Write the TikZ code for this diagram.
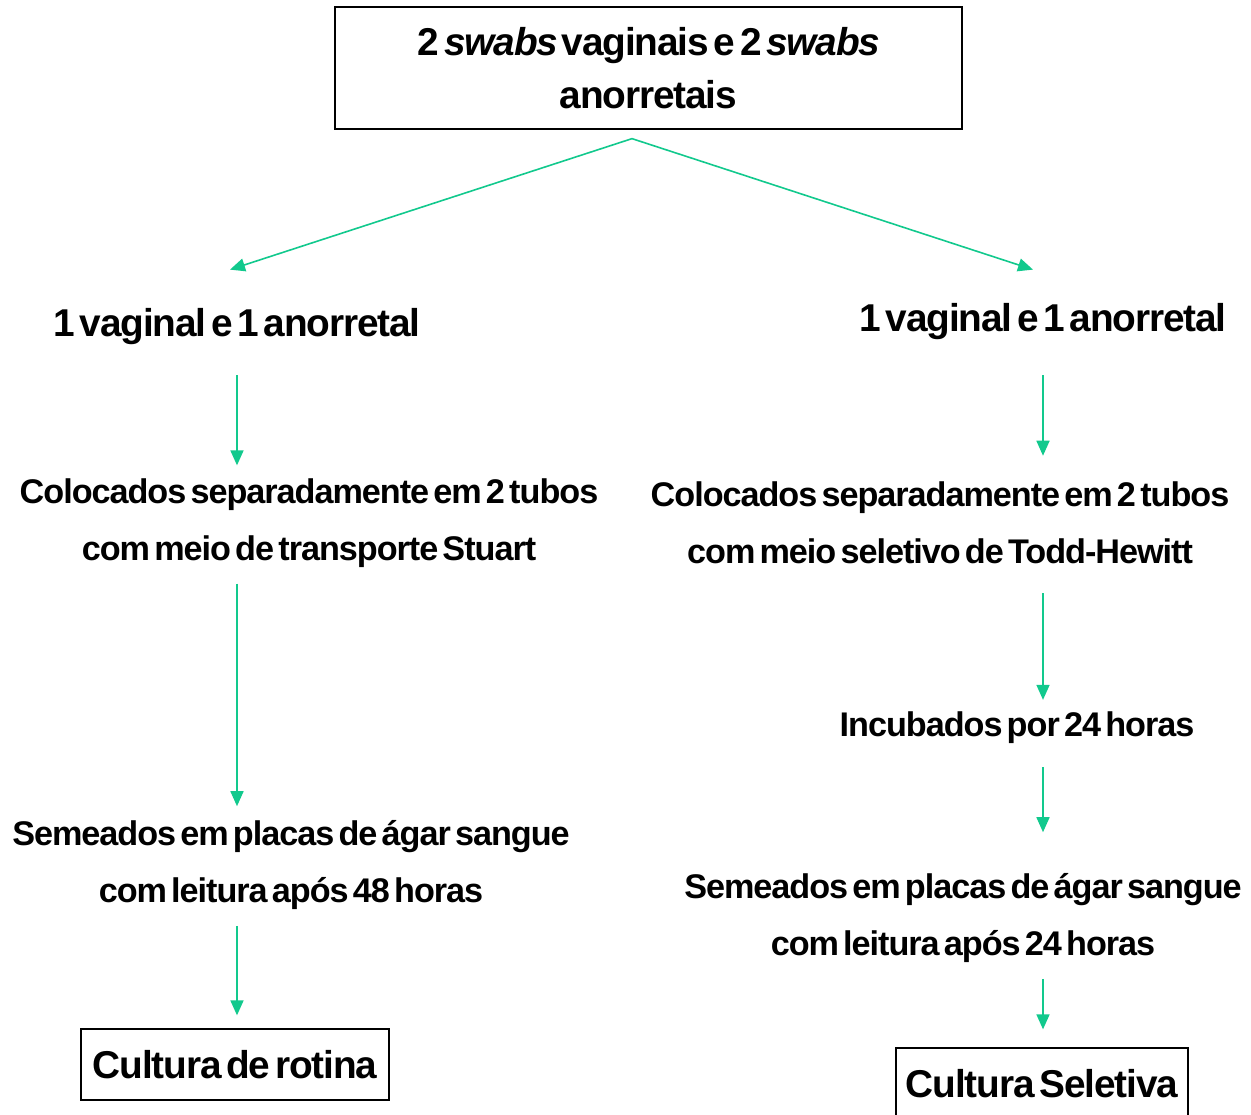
\documentclass[tikz,border=0pt]{standalone}
\usepackage{fontspec}
\setmainfont{Liberation Sans}[LetterSpace=-3, WordSpace=0.5]
\usetikzlibrary{arrows.meta, calc}
\definecolor{verde}{RGB}{18,201,141}
\tikzset{
  caixa/.style={rectangle, draw=black, line width=1.3pt, inner sep=0pt, align=center, font=\bfseries\fontsize{38.8}{53}\selectfont},
  grande/.style={rectangle, inner sep=0pt, align=center, font=\bfseries\fontsize{38.8}{53}\selectfont},
  texto/.style={rectangle, inner sep=0pt, align=center, font=\bfseries\fontsize{34.2}{57}\selectfont},
  seta/.style={draw=verde, line width=1.6pt, -{Triangle[length=15pt,width=13pt]}}
}

\begin{document}
\begin{tikzpicture}[x=1pt, y=-1pt]
        \useasboundingbox (0,0) rectangle (1251,1115);
        \clip (0,0) rectangle (1251,1115);

        \node (swabs) [caixa, minimum width=627pt, minimum height=122pt] at (648.5,68) {2 \textit{swabs} vaginais e 2 \textit{swabs}\\anorretais};

        % ramo da esquerda
        \node (vag1) [grande] at (237,327) {1 vaginal e 1 anorretal};
        \node (col1) [texto] at (309,523) {Colocados separadamente em 2 tubos\\com meio de transporte Stuart};
        \node (sem1) [texto] at (291,865) {Semeados em placas de ágar sangue\\com leitura após 48 horas};
        \node (rot1) [caixa, minimum width=308pt, minimum height=71pt] at (235,1064.5) {Cultura de rotina};

        % ramo da direita
        \node (vag2) [grande] at (1043,322) {1 vaginal e 1 anorretal};
        \node (col2) [texto] at (940,523) {Colocados separadamente em 2 tubos\\com meio seletivo de Todd-Hewitt};
        \node (inc2) [texto] at (1017,728) {Incubados por 24 horas};
        \node (sem2) [texto] at (963,918) {Semeados em placas de ágar sangue\\com leitura após 24 horas};
        \node (sel2) [caixa, minimum width=292pt, minimum height=71pt] at (1042,1083.5) {Cultura Seletiva};

        \coordinate (apex) at ([xshift=-16.5pt,yshift=-9pt]swabs.south);
        \draw [seta] (apex) -- ([xshift=-7pt,yshift=39pt]vag1.north);
        \draw [seta] (apex) -- ([xshift=-10pt,yshift=34pt]vag2.north);

        \draw [seta, shorten <=30pt, shorten >=13pt] (vag1.south) -- (vag1.south |- col1.north);
        \draw [seta, shorten <=16pt, shorten >=14pt] (vag1.south |- col1.south) -- (vag1.south |- sem1.north);
        \draw [seta, shorten <=16pt, shorten >=13pt] (vag1.south |- sem1.south) -- (vag1.south |- rot1.north);

        \draw [seta, shorten <=35pt, shorten >=26pt] (vag2.south) -- (vag2.south |- col2.north);
        \draw [seta, shorten <=29pt, shorten >=12pt] (vag2.south |- col2.south) -- (vag2.south |- inc2.north);
        \draw [seta, shorten <=23pt, shorten >=41pt] (vag2.south |- inc2.south) -- (vag2.south |- sem2.north);
        \draw [seta, shorten <=16pt, shorten >=18pt] (vag2.south |- sem2.south) -- (vag2.south |- sel2.north);
\end{tikzpicture}
\end{document}
